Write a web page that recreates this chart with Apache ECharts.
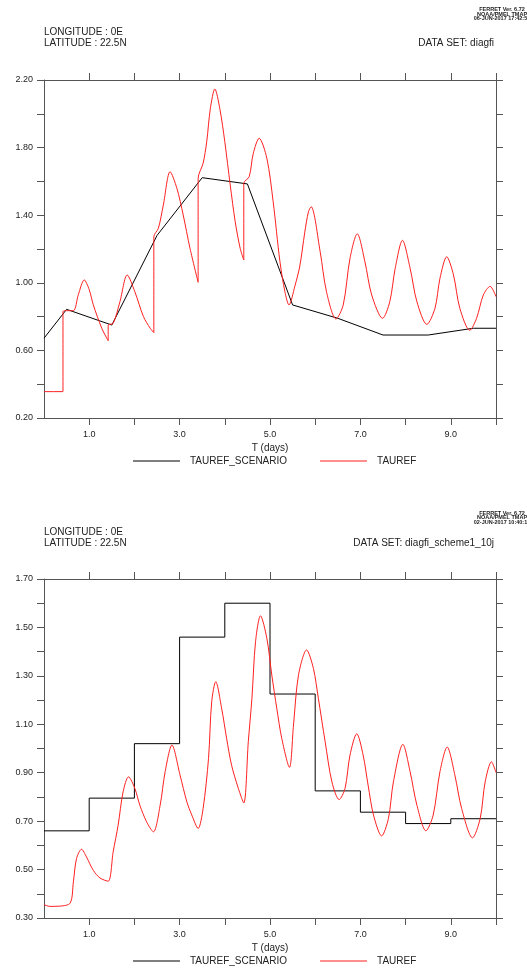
<!DOCTYPE html>
<html>
<head>
<meta charset="utf-8">
<script src="https://cdn.jsdelivr.net/npm/echarts@6/dist/echarts.min.js"></script>
<style>
html,body{margin:0;padding:0;background:#fff;}
#c{width:527px;height:969px;}
</style>
</head>
<body>
<div id="c"></div>
<script>
// ---------- DATA ----------
const seriesNames = ['TAUREF_SCENARIO', 'TAUREF'];
const xTicks = [1, 2, 3, 4, 5, 6, 7, 8, 9, 10];
const xLabels = [1, 3, 5, 7, 9];
const yTicksTop = [0.2, 0.4, 0.6, 0.8, 1.0, 1.2, 1.4, 1.6, 1.8, 2.0, 2.2];
const yLabelsTop = [0.2, 0.6, 1.0, 1.4, 1.8, 2.2];
const yTicksBot = [0.3, 0.4, 0.5, 0.6, 0.7, 0.8, 0.9, 1.0, 1.1, 1.2, 1.3, 1.4, 1.5, 1.6, 1.7];
const yLabelsBot = [0.3, 0.5, 0.7, 0.9, 1.1, 1.3, 1.5, 1.7];

// Chart 1 (DATA SET: diagfi)
const topScenario = [[0,0.672],[0.5,0.843],[1.5,0.75],[2.5,1.28],[3.5,1.622],[4.5,1.585],[5.5,0.869],[6.5,0.79],[7.5,0.691],[8.5,0.691],[9.5,0.731],[10,0.731]];
const topTauref = [[0,0.356],[0.42,0.356],[0.42,0.83],[0.5,0.835],[0.65,0.835],[0.76,0.93],[0.89,1.017],[1.0,0.96],[1.09,0.87],[1.28,0.73],[1.42,0.657],[1.42,0.75],[1.53,0.76],[1.68,0.888],[1.84,1.046],[2.01,0.947],[2.2,0.8],[2.35,0.731],[2.43,0.705],[2.43,1.273],[2.53,1.322],[2.64,1.46],[2.79,1.657],[2.94,1.559],[3.08,1.401],[3.23,1.204],[3.41,1.003],[3.41,1.618],[3.52,1.707],[3.6,1.835],[3.68,2.03],[3.78,2.147],[3.89,2.03],[4.0,1.835],[4.12,1.579],[4.23,1.362],[4.34,1.204],[4.42,1.135],[4.42,1.589],[4.54,1.628],[4.63,1.766],[4.76,1.855],[4.93,1.737],[5.07,1.48],[5.22,1.125],[5.33,0.947],[5.42,0.869],[5.55,0.98],[5.66,1.10],[5.77,1.30],[5.85,1.42],[5.91,1.45],[6.11,1.184],[6.25,0.947],[6.46,0.786],[6.62,0.869],[6.77,1.145],[6.93,1.29],[7.1,1.125],[7.25,0.928],[7.49,0.79],[7.65,0.888],[7.77,1.086],[7.93,1.251],[8.1,1.086],[8.25,0.888],[8.47,0.754],[8.65,0.849],[8.76,1.026],[8.91,1.154],[9.06,1.046],[9.2,0.849],[9.42,0.719],[9.57,0.79],[9.72,0.928],[9.87,0.979],[10,0.918]];

// Chart 2 (DATA SET: diagfi_scheme1_10j)
const botScenarioDays = [0, 1, 2, 3, 4, 5, 6, 7, 8, 9, 10];
const botScenarioVals = [0.66, 0.795, 1.02, 1.46, 1.60, 1.225, 0.825, 0.737, 0.69, 0.71, 0.71];
const botTauref = [[0,0.355],[0.13,0.348],[0.35,0.349],[0.58,0.362],[0.65,0.449],[0.72,0.546],[0.83,0.584],[0.94,0.552],[1.09,0.497],[1.24,0.465],[1.42,0.452],[1.53,0.573],[1.64,0.683],[1.75,0.821],[1.87,0.883],[2.01,0.835],[2.12,0.766],[2.27,0.697],[2.42,0.656],[2.57,0.766],[2.68,0.904],[2.83,1.014],[3.01,0.89],[3.16,0.78],[3.27,0.725],[3.41,0.67],[3.52,0.752],[3.64,0.959],[3.71,1.193],[3.8,1.276],[3.93,1.166],[4.04,1.042],[4.15,0.931],[4.3,0.835],[4.42,0.775],[4.52,1.028],[4.6,1.207],[4.68,1.441],[4.79,1.548],[4.93,1.455],[5.04,1.303],[5.15,1.166],[5.26,1.042],[5.43,0.922],[5.52,1.097],[5.63,1.303],[5.81,1.407],[5.96,1.331],[6.07,1.207],[6.22,1.028],[6.37,0.862],[6.53,0.789],[6.66,0.835],[6.77,0.973],[6.92,1.061],[7.06,0.973],[7.17,0.849],[7.29,0.725],[7.47,0.639],[7.62,0.711],[7.73,0.862],[7.94,1.017],[8.1,0.904],[8.25,0.766],[8.45,0.66],[8.61,0.725],[8.76,0.904],[8.92,1.006],[9.09,0.89],[9.24,0.752],[9.48,0.631],[9.65,0.711],[9.76,0.862],[9.9,0.945],[10,0.901]];

// ---------- CHART ----------
const FONT = '"Liberation Sans", "DejaVu Sans", sans-serif';
const AX = '#555';
const TXT = '#222';
const tickLen = 7;

function xAxisPair(gi) {
  const base = {
    gridIndex: gi, type: 'value', min: 0, max: 10, interval: 1,
    splitLine: { show: false },
    axisLine: { onZero: false, lineStyle: { color: AX, width: 1 } },
    axisTick: { length: tickLen, customValues: xTicks, lineStyle: { color: AX } }
  };
  return [
    Object.assign({}, base, {
      position: 'bottom',
      axisLabel: { customValues: xLabels, margin: 12, color: TXT, fontSize: 9, fontFamily: FONT,
        formatter: v => v.toFixed(1) },
      name: 'T (days)', nameLocation: 'middle', nameGap: 25,
      nameTextStyle: { color: TXT, fontSize: 10, fontFamily: FONT }
    }),
    Object.assign({}, base, { position: 'top', axisLabel: { show: false } })
  ];
}
function yAxisPair(gi, min, max, ticks, labels) {
  const base = {
    gridIndex: gi, type: 'value', min: min, max: max, interval: 0.1,
    splitLine: { show: false },
    axisLine: { onZero: false, lineStyle: { color: AX, width: 1 } },
    axisTick: { length: tickLen, customValues: ticks, lineStyle: { color: AX } }
  };
  return [
    Object.assign({}, base, {
      position: 'left',
      axisLabel: { customValues: labels, margin: 11, color: TXT, fontSize: 9, fontFamily: FONT,
        formatter: v => v.toFixed(2) }
    }),
    Object.assign({}, base, { position: 'right', axisLabel: { show: false } })
  ];
}

function hdr(text, x, y, align, size, weight) {
  return { type: 'text', x: x, y: y, silent: true,
    style: { text: text, fill: TXT, font: (weight || 'normal') + ' ' + size + 'px ' + FONT,
      textAlign: align, textVerticalAlign: 'middle' } };
}

const botScenario = botScenarioDays.map((d, i) => [d, botScenarioVals[i]]);

const chart = echarts.init(document.getElementById('c'), null, { renderer: 'canvas' });
chart.setOption({
  animation: false,
  backgroundColor: '#fff',
  grid: [
    { left: 44, top: 80, width: 452, height: 338 },
    { left: 44, top: 579, width: 452, height: 339 }
  ],
  xAxis: [].concat(xAxisPair(0), xAxisPair(1)),
  yAxis: [].concat(yAxisPair(0, 0.2, 2.2, yTicksTop, yLabelsTop), yAxisPair(1, 0.3, 1.7, yTicksBot, yLabelsBot)),
  legend: [0, 1].map(i => ({
    data: seriesNames, left: 128, top: i === 0 ? 451 : 951,
    icon: 'rect', itemWidth: 47, itemHeight: 1, itemGap: 33,
    selectedMode: false,
    textStyle: { color: TXT, fontSize: 10, fontFamily: FONT, padding: [0, 0, 0, 5] }
  })),
  graphic: [
    hdr('FERRET Ver. 6.72', 502, 9.5, 'center', 5.5, 'bold'),
    hdr('NOAA/PMEL TMAP', 502, 14, 'center', 5.5, 'bold'),
    hdr('06-JUN-2017 17:42:54', 502, 18.5, 'center', 5.5, 'bold'),
    hdr('LONGITUDE : 0E', 44, 32.5, 'left', 10),
    hdr('LATITUDE : 22.5N', 44, 43.5, 'left', 10),
    hdr('DATA SET: diagfi', 494, 43.5, 'right', 10),
    hdr('FERRET Ver. 6.72', 502, 513, 'center', 5.5, 'bold'),
    hdr('NOAA/PMEL TMAP', 502, 517.5, 'center', 5.5, 'bold'),
    hdr('02-JUN-2017 10:40:10', 502, 522, 'center', 5.5, 'bold'),
    hdr('LONGITUDE : 0E', 44, 532.5, 'left', 10),
    hdr('LATITUDE : 22.5N', 44, 543.5, 'left', 10),
    hdr('DATA SET: diagfi_scheme1_10j', 494, 543.5, 'right', 10)
  ],
  series: [
    { name: seriesNames[0], type: 'line', xAxisIndex: 0, yAxisIndex: 0, data: topScenario,
      showSymbol: false, lineStyle: { color: '#000', width: 1 }, itemStyle: { color: '#000' } },
    { name: seriesNames[1], type: 'line', xAxisIndex: 0, yAxisIndex: 0, data: topTauref,
      showSymbol: false, smooth: 0.3, lineStyle: { color: '#ff2020', width: 1 }, itemStyle: { color: '#ff2020' } },
    { name: seriesNames[0], type: 'line', xAxisIndex: 2, yAxisIndex: 2, data: botScenario, step: 'end',
      showSymbol: false, lineStyle: { color: '#000', width: 1 }, itemStyle: { color: '#000' } },
    { name: seriesNames[1], type: 'line', xAxisIndex: 2, yAxisIndex: 2, data: botTauref,
      showSymbol: false, smooth: 0.3, lineStyle: { color: '#ff2020', width: 1 }, itemStyle: { color: '#ff2020' } }
  ]
});
</script>
</body>
</html>
